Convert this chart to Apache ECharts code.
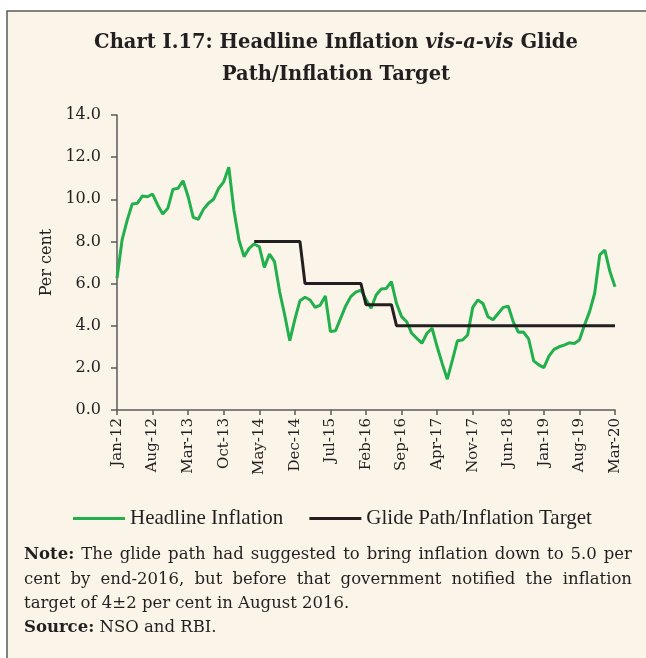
<!DOCTYPE html>
<html>
<head>
<meta charset="utf-8">
<script src="https://cdn.jsdelivr.net/npm/echarts@6/dist/echarts.min.js"></script>
<style>
body { margin: 0; background: #fff; }
#chart { width: 646px; height: 658px; }
</style>
</head>
<body>
<div id="chart"></div>
<script>
// month names and years for the category axis
const monthNames = ['Jan', 'Feb', 'Mar', 'Apr', 'May', 'Jun', 'Jul', 'Aug', 'Sep', 'Oct', 'Nov', 'Dec'];
const years = ['12', '13', '14', '15', '16', '17', '18', '19', '20'];

// headline CPI inflation, Jan-12 .. Mar-20 (per cent)
const headline = [
    6.25, 8.07, 9.00, 9.78, 9.81, 10.16, 10.12, 10.25, 9.73, 9.30, 9.57, 10.47,
    10.52, 10.88, 10.12, 9.14, 9.05, 9.52, 9.81, 10.00, 10.52, 10.83, 11.52, 9.49,
    8.07, 7.28, 7.67, 7.88, 7.75, 6.77, 7.40, 7.04, 5.62, 4.51, 3.29, 4.30,
    5.19, 5.35, 5.22, 4.87, 4.98, 5.41, 3.72, 3.76, 4.35, 4.94, 5.38, 5.59,
    5.69, 5.25, 4.83, 5.46, 5.74, 5.77, 6.09, 5.06, 4.43, 4.19, 3.64, 3.40,
    3.17, 3.64, 3.88, 3.00, 2.20, 1.46, 2.37, 3.29, 3.32, 3.56, 4.87, 5.22,
    5.06, 4.43, 4.28, 4.58, 4.87, 4.92, 4.17, 3.69, 3.70, 3.38, 2.33, 2.14,
    2.01, 2.56, 2.88, 3.00, 3.08, 3.19, 3.16, 3.32, 4.03, 4.67, 5.54, 7.36,
    7.59, 6.57, 5.85
];

// glide path / inflation target, same months
const glide = [
    null, null, null, null, null, null, null, null, null, null, null, null,
    null, null, null, null, null, null, null, null, null, null, null, null,
    null, null, null, 8, 8, 8, 8, 8, 8, 8, 8, 8,
    8, 6, 6, 6, 6, 6, 6, 6, 6, 6, 6, 6,
    6, 5, 5, 5, 5, 5, 5, 4, 4, 4, 4, 4,
    4, 4, 4, 4, 4, 4, 4, 4, 4, 4, 4, 4,
    4, 4, 4, 4, 4, 4, 4, 4, 4, 4, 4, 4,
    4, 4, 4, 4, 4, 4, 4, 4, 4, 4, 4, 4,
    4, 4, 4
];

const yTicks = [0, 14, 2];

const noteLines = [
    [{t: 'Note:', b: true}, {t: 'The'}, {t: 'glide'}, {t: 'path'}, {t: 'had'}, {t: 'suggested'}, {t: 'to'}, {t: 'bring'}, {t: 'inflation'}, {t: 'down'}, {t: 'to'}, {t: '5.0'}, {t: 'per'}],
    [{t: 'cent'}, {t: 'by'}, {t: 'end-2016,'}, {t: 'but'}, {t: 'before'}, {t: 'that'}, {t: 'government'}, {t: 'notified'}, {t: 'the'}, {t: 'inflation'}]
];

function getMonths() {
    let out = [];
    for (let y = 0; y < years.length; ++y) {
        for (let m = 0; m < 12; ++m) {
            if (years[y] === '20' && m > 2) break;
            out.push(monthNames[m] + '-' + years[y]);
        }
    }
    return out;
}

const textColor = '#231f20';
const noteFont = '16.5px "DejaVu Serif"';
const noteBold = 'bold 16.5px "DejaVu Serif"';

function measure(txt, font) {
    var ctx = document.createElement('canvas').getContext('2d');
    ctx.font = font;
    return ctx.measureText(txt).width;
}

// spread the words of one line between left and right edges
function justify(words, y, left, right) {
    let widths = words.map(w => measure(w.t, w.b ? noteBold : noteFont));
    let sum = widths.reduce((a, b) => a + b, 0);
    let gap = (right - left - sum) / (words.length - 1);
    let x = left;
    let els = [];
    for (let i = 0; i < words.length; ++i) {
        els.push({
            type: 'text', x: x, y: y,
            style: {text: words[i].t, font: words[i].b ? noteBold : noteFont, fill: textColor, verticalAlign: 'middle'}
        });
        x += widths[i] + gap;
    }
    return els;
}

let graphics = [{
    type: 'rect', z: -10,
    shape: {x: 7, y: 11, width: 800, height: 800},
    style: {fill: '#fbf4e9', stroke: '#5a5a5a', lineWidth: 1.5}
}];
graphics = graphics.concat(justify(noteLines[0], 555, 24, 632));
graphics = graphics.concat(justify(noteLines[1], 580, 24, 632));
graphics.push({
    type: 'text', x: 24, y: 604,
    style: {text: 'target of 4\u00b12 per cent in August 2016.', font: noteFont, fill: textColor, verticalAlign: 'middle'}
});
graphics.push({
    type: 'text', x: 24, y: 628,
    style: {
        text: '{b|Source:} NSO and RBI.', font: noteFont, fill: textColor, verticalAlign: 'middle',
        rich: {b: {font: noteBold, fill: textColor}}
    }
});

echarts.init(document.getElementById('chart')).setOption({
    backgroundColor: '#ffffff',
    animation: false,
    title: {
        text: '{b|Chart I.17: Headline Inflation }{i|vis-a-vis}{b| Glide}\n{b|Path/Inflation Target}',
        left: 331,
        top: 22,
        textAlign: 'center',
        textStyle: {
            rich: {
                b: {fontFamily: 'DejaVu Serif', fontWeight: 'bold', fontSize: 19.5, color: textColor, lineHeight: 32},
                i: {fontFamily: 'DejaVu Serif', fontWeight: 'bold', fontStyle: 'italic', fontSize: 19.5, color: textColor, lineHeight: 32}
            }
        }
    },
    legend: {
        left: 68,
        top: 503,
        icon: 'rect',
        itemWidth: 52,
        itemHeight: 3,
        itemGap: 26,
        textStyle: {fontFamily: 'Liberation Serif', fontSize: 21, color: textColor},
        data: ['Headline Inflation', 'Glide Path/Inflation Target']
    },
    graphic: graphics,
    grid: {
        left: 117,
        top: 115,
        width: 498,
        height: 295
    },
    xAxis: [{
        type: 'category',
        boundaryGap: false,
        data: getMonths(),
        axisLine: {lineStyle: {color: '#5a5a5a', width: 1.5}},
        axisTick: {show: true, interval: 6, length: 5, lineStyle: {color: '#5a5a5a', width: 1.5}},
        axisLabel: {
            interval: 6,
            rotate: 90,
            margin: 8,
            fontFamily: 'DejaVu Serif',
            fontSize: 15,
            color: textColor
        }
    }],
    yAxis: [{
        type: 'value',
        min: yTicks[0],
        max: yTicks[1],
        interval: yTicks[2],
        name: 'Per cent',
        nameLocation: 'middle',
        nameGap: 62,
        nameTextStyle: {fontFamily: 'DejaVu Serif', fontSize: 16, color: textColor},
        axisLine: {show: true, lineStyle: {color: '#5a5a5a', width: 1.5}},
        axisTick: {show: true, length: 6, lineStyle: {color: '#5a5a5a', width: 1.5}},
        splitLine: {show: false},
        axisLabel: {
            margin: 16,
            fontFamily: 'DejaVu Serif',
            fontSize: 16,
            color: textColor,
            formatter: x => x.toFixed(1)
        }
    }],
    series: [{
        name: 'Headline Inflation',
        type: 'line',
        symbol: 'none',
        data: headline,
        itemStyle: {color: '#21b04b'},
        lineStyle: {color: '#21b04b', width: 3}
    },
    {
        name: 'Glide Path/Inflation Target',
        type: 'line',
        symbol: 'none',
        data: glide,
        itemStyle: {color: textColor},
        lineStyle: {color: textColor, width: 3}
    }]
})
</script>
</body>
</html>
